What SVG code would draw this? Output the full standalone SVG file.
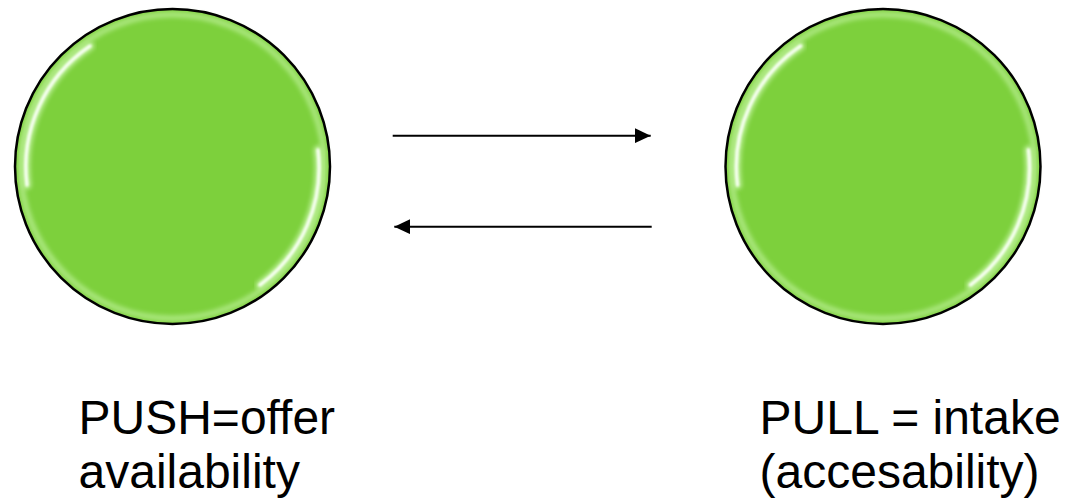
<svg xmlns="http://www.w3.org/2000/svg" width="1070" height="502" viewBox="0 0 1070 502">
  <style>
    .ball { fill: #7dd03c; }
    .rim { fill: none; stroke: #000; stroke-width: 2.5; }
    .glow { fill: none; stroke: #a8e67a; stroke-width: 6; filter: url(#soft); }
    .band { fill: none; stroke: #b8ee90; stroke-width: 9; stroke-linecap: round; filter: url(#soft); }
    .hl { fill: none; stroke: #f6fff0; stroke-width: 3.5; stroke-linecap: round; filter: url(#soft1); }
    .conn { stroke: #000; stroke-width: 2; fill: none; }
    .lbl { font-family: "Liberation Sans", Arial, sans-serif; font-size: 48px; fill: #000; }
  </style>
  <defs>
    <filter id="soft" x="-10%" y="-10%" width="120%" height="120%">
      <feGaussianBlur stdDeviation="2"/>
    </filter>
    <filter id="soft1" x="-10%" y="-10%" width="120%" height="120%">
      <feGaussianBlur stdDeviation="1.2"/>
    </filter>
    <marker id="arrow" viewBox="0 0 16 15" refX="16" refY="7.5" markerWidth="16" markerHeight="15" markerUnits="userSpaceOnUse" orient="auto">
      <path d="M0,0 L16,7.5 L0,15 Z" fill="#000"/>
    </marker>
  </defs>

  <g id="push-node">
    <circle class="ball" cx="172.5" cy="166.5" r="157.5"/>
    <circle class="glow" cx="172.5" cy="166.5" r="152"/>
    <path class="band" d="M 27 185 A 146 146 0 0 1 90 46"/>
    <path class="band" d="M 318 150 A 146 146 0 0 1 260 285"/>
    <path class="hl" d="M 27 185 A 146 146 0 0 1 90 46"/>
    <path class="hl" d="M 318 150 A 146 146 0 0 1 260 285"/>
    <circle class="rim" cx="172.5" cy="166.5" r="157.5"/>
  </g>

  <g id="pull-node">
    <circle class="ball" cx="883" cy="166.5" r="157.5"/>
    <circle class="glow" cx="883" cy="166.5" r="152"/>
    <path class="band" d="M 737.5 185 A 146 146 0 0 1 800.5 46"/>
    <path class="band" d="M 1028.5 150 A 146 146 0 0 1 970.5 285"/>
    <path class="hl" d="M 737.5 185 A 146 146 0 0 1 800.5 46"/>
    <path class="hl" d="M 1028.5 150 A 146 146 0 0 1 970.5 285"/>
    <circle class="rim" cx="883" cy="166.5" r="157.5"/>
  </g>

  <g id="connectors">
    <line class="conn" x1="392.7" y1="135.7" x2="650.7" y2="135.7" marker-end="url(#arrow)"/>
    <line class="conn" x1="651.7" y1="226.7" x2="394.3" y2="226.7" marker-end="url(#arrow)"/>
  </g>

  <g id="push-label">
    <text class="lbl" x="78.5" y="434">PUSH=offer</text>
    <text class="lbl" x="78.5" y="488">availability</text>
  </g>
  <g id="pull-label">
    <text class="lbl" x="759.5" y="434">PULL = intake</text>
    <text class="lbl" x="759.5" y="488">(accesability)</text>
  </g>
</svg>
